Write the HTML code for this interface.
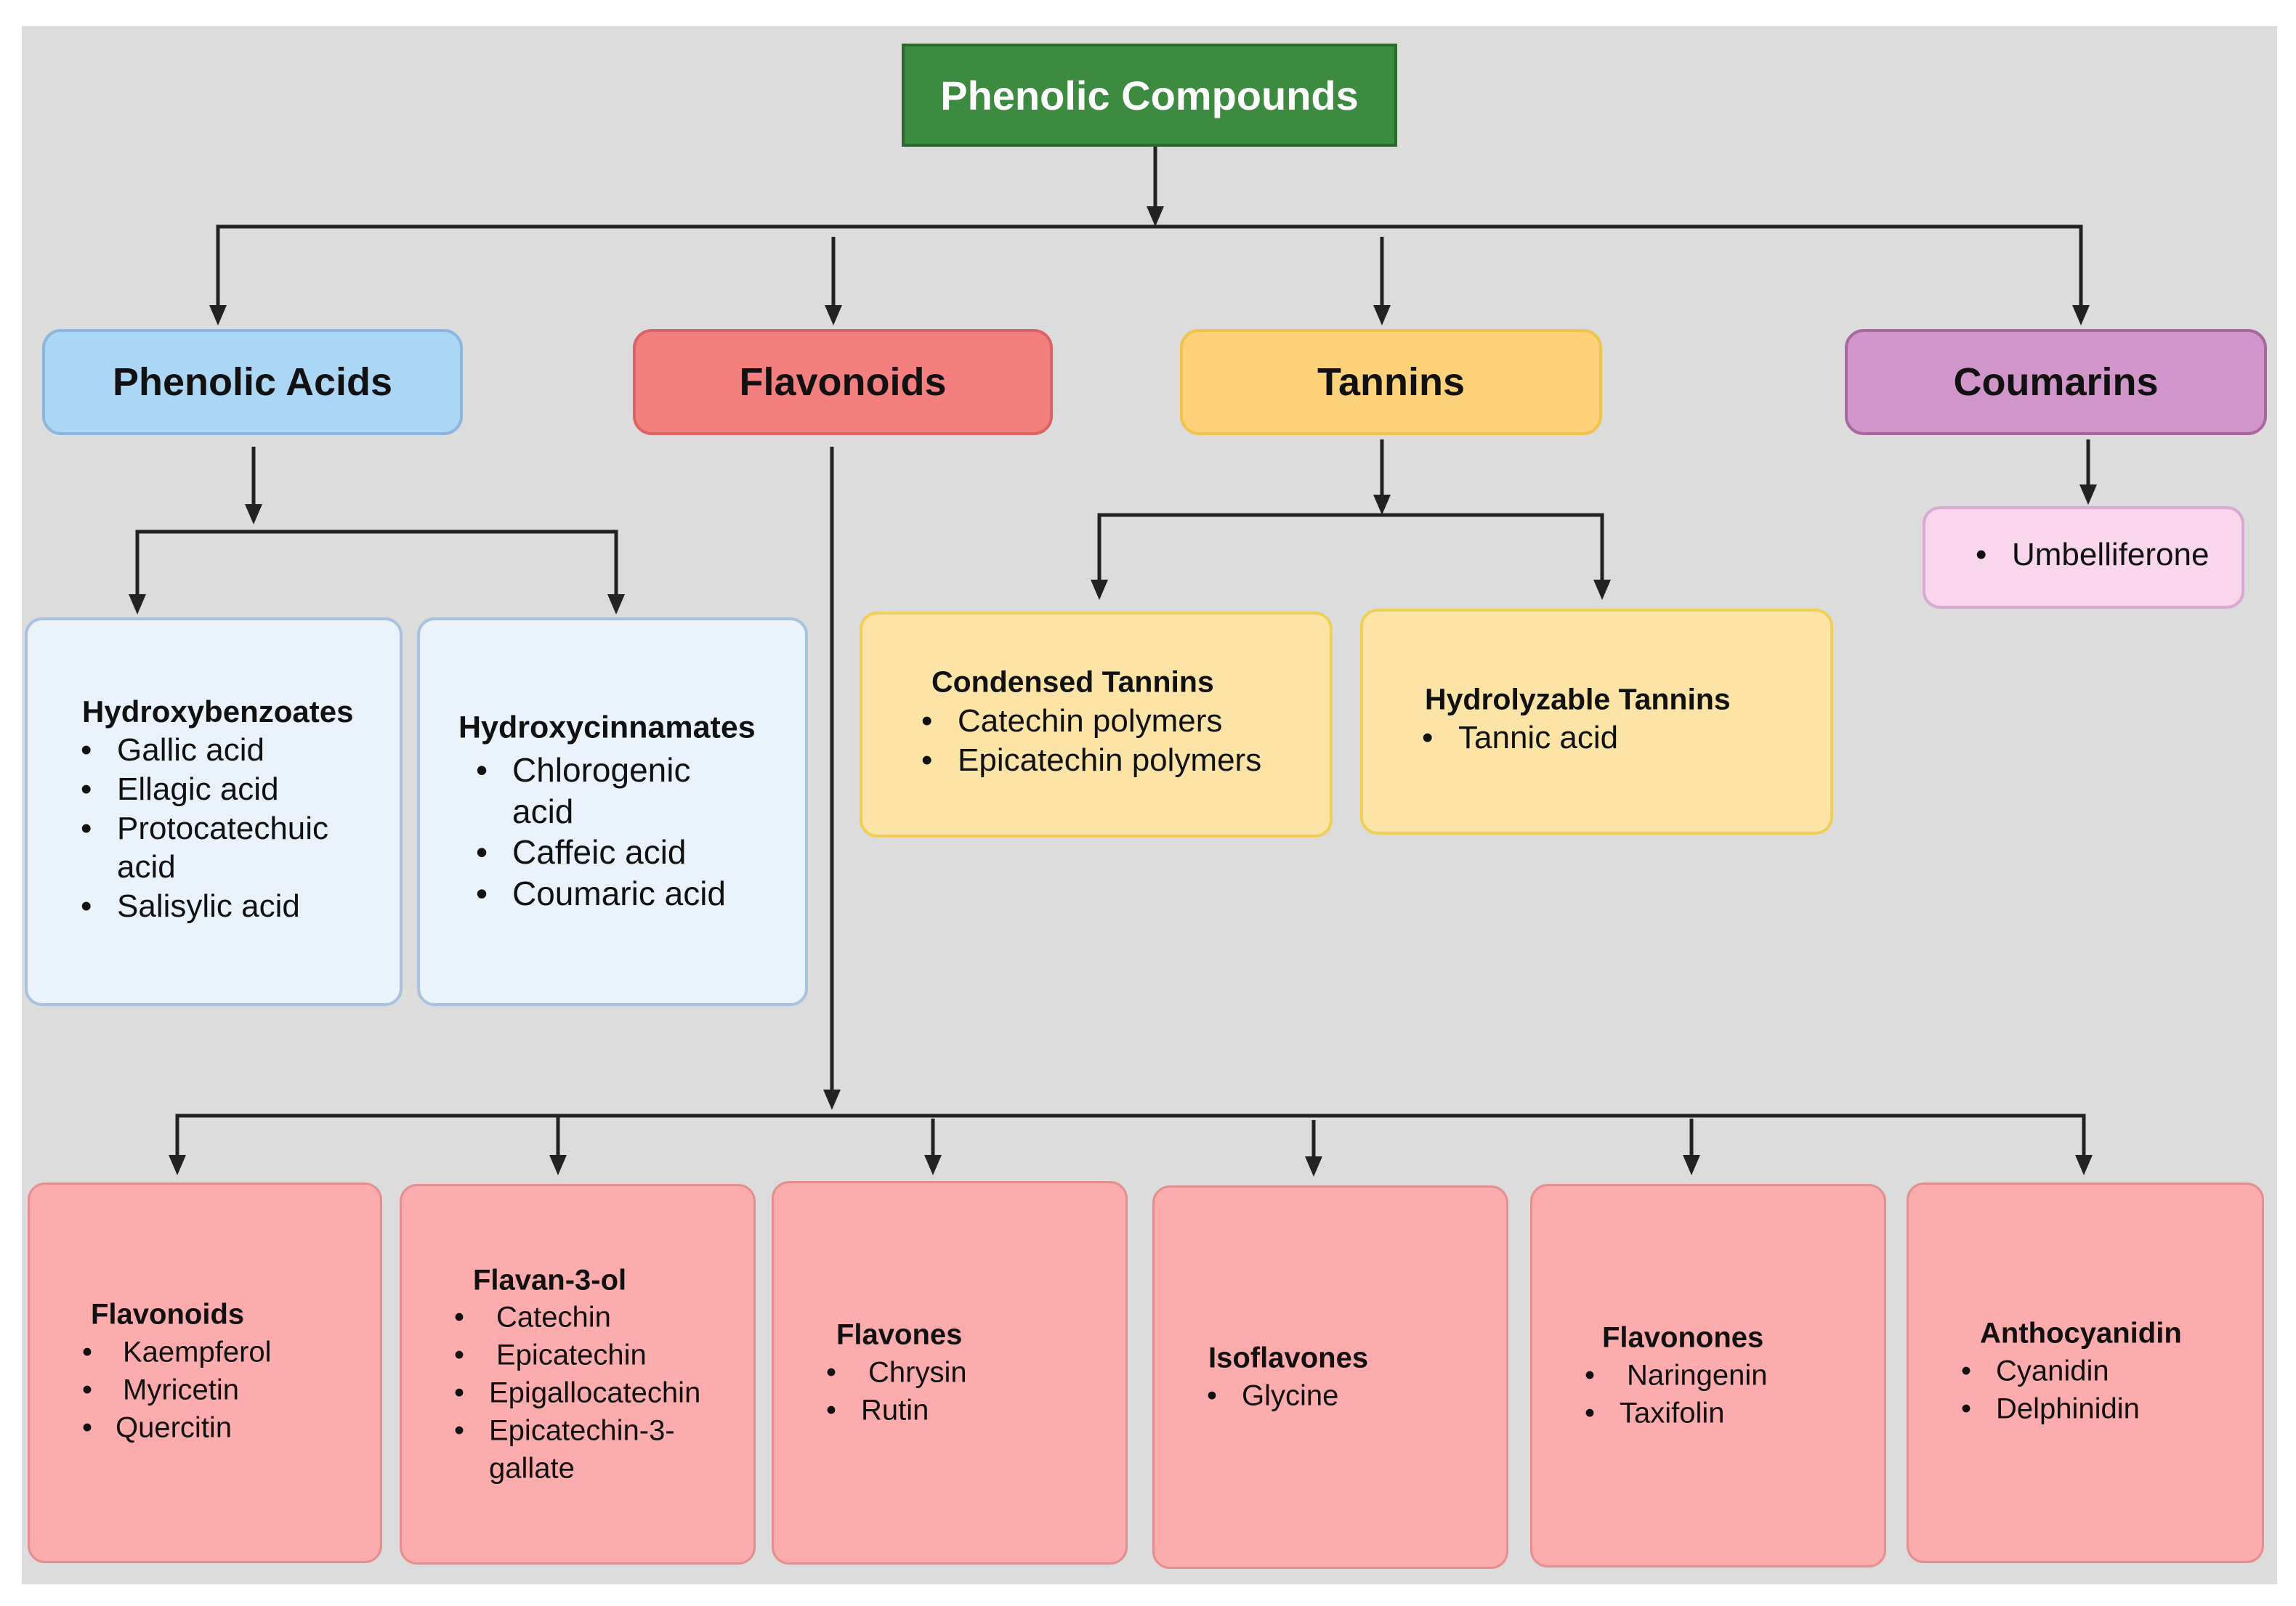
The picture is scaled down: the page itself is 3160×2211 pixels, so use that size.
<!DOCTYPE html>
<html><head><meta charset="utf-8"><style>
html,body{margin:0;padding:0;background:#fff;}
#c{position:relative;width:3160px;height:2211px;overflow:hidden;background:#fff;font-family:"Liberation Sans",Arial,sans-serif;}
#bg{position:absolute;left:30px;top:36px;width:3104px;height:2145px;background:#dcdcdc;}
.b{position:absolute;box-sizing:border-box;}
.t{position:absolute;white-space:nowrap;transform:translateY(-50%);color:#111;}
.h{font-weight:bold;}
.ctr{display:flex;align-items:center;justify-content:center;font-weight:bold;font-size:54px;color:#111;}
svg{position:absolute;left:0;top:0;}
</style></head><body><div id="c">
<div id="bg"></div>

<div class="b ctr" style="left:1241px;top:60px;width:682px;height:142px;background:#3d8b40;border:4px solid #2a6a2c;color:#fff;font-size:56px;">Phenolic Compounds</div>

<div class="b ctr" style="left:58px;top:453px;width:579px;height:146px;background:#acd7f4;border:4px solid #8cb6de;border-radius:26px;">Phenolic Acids</div>
<div class="b ctr" style="left:871px;top:453px;width:578px;height:146px;background:#f47f7f;border:4px solid #d86464;border-radius:26px;">Flavonoids</div>
<div class="b ctr" style="left:1624px;top:453px;width:581px;height:146px;background:#fdd27a;border:4px solid #f1c34c;border-radius:26px;">Tannins</div>
<div class="b ctr" style="left:2539px;top:453px;width:581px;height:146px;background:#d196c9;border:4px solid #a8689f;border-radius:26px;">Coumarins</div>

<div class="b" style="left:34px;top:850px;width:520px;height:535px;background:#eaf3fc;border:4px solid #a8c2e0;border-radius:24px;"></div>
<div class="b" style="left:574px;top:850px;width:538px;height:535px;background:#eaf3fc;border:4px solid #a8c2e0;border-radius:24px;"></div>
<div class="b" style="left:1183px;top:842px;width:651px;height:311px;background:#fbe4a6;border:4px solid #f0cf58;border-radius:24px;"></div>
<div class="b" style="left:1872px;top:838px;width:651px;height:311px;background:#fbe4a6;border:4px solid #f0cf58;border-radius:24px;"></div>
<div class="b" style="left:2646px;top:697px;width:443px;height:141px;background:#f8d6ec;border:4px solid #daa8d2;border-radius:24px;"></div>

<div class="b" style="left:38px;top:1628px;width:488px;height:524px;background:#fcacac;border:3px solid #e48e8e;border-radius:24px;"></div>
<div class="b" style="left:550px;top:1630px;width:490px;height:524px;background:#fcacac;border:3px solid #e48e8e;border-radius:24px;"></div>
<div class="b" style="left:1062px;top:1626px;width:490px;height:528px;background:#fcacac;border:3px solid #e48e8e;border-radius:24px;"></div>
<div class="b" style="left:1586px;top:1632px;width:490px;height:528px;background:#fcacac;border:3px solid #e48e8e;border-radius:24px;"></div>
<div class="b" style="left:2106px;top:1630px;width:490px;height:528px;background:#fcacac;border:3px solid #e48e8e;border-radius:24px;"></div>
<div class="b" style="left:2624px;top:1628px;width:492px;height:524px;background:#fcacac;border:3px solid #e48e8e;border-radius:24px;"></div>

<svg width="3160" height="2211" viewBox="0 0 3160 2211">
<g stroke="#222" stroke-width="5" fill="none">
<line x1="1590" y1="202" x2="1590" y2="290"/>
<polyline points="300,430 300,312 2864,312 2864,430"/>
<line x1="1147" y1="326" x2="1147" y2="430"/>
<line x1="1902" y1="326" x2="1902" y2="430"/>
<line x1="349" y1="615" x2="349" y2="700"/>
<polyline points="189,826 189,732 848,732 848,826"/>
<line x1="1145" y1="615" x2="1145" y2="1510"/>
<polyline points="244,1600 244,1536 2868,1536 2868,1600"/>
<line x1="768" y1="1536" x2="768" y2="1600"/>
<line x1="1284" y1="1540" x2="1284" y2="1600"/>
<line x1="1808" y1="1542" x2="1808" y2="1600"/>
<line x1="2328" y1="1540" x2="2328" y2="1600"/>
<line x1="1902" y1="605" x2="1902" y2="690"/>
<polyline points="1513,808 1513,709 2205,709 2205,808"/>
<line x1="2874" y1="605" x2="2874" y2="676"/>
</g>
<g fill="#222">
<polygon points="1578,284 1602,284 1590,312"/>
<polygon points="288,420 312,420 300,448"/>
<polygon points="1135,420 1159,420 1147,448"/>
<polygon points="1890,420 1914,420 1902,448"/>
<polygon points="2852,420 2876,420 2864,448"/>
<polygon points="337,694 361,694 349,722"/>
<polygon points="177,818 201,818 189,846"/>
<polygon points="836,818 860,818 848,846"/>
<polygon points="1133,1500 1157,1500 1145,1528"/>
<polygon points="232,1590 256,1590 244,1618"/>
<polygon points="756,1590 780,1590 768,1618"/>
<polygon points="1272,1590 1296,1590 1284,1618"/>
<polygon points="1796,1592 1820,1592 1808,1620"/>
<polygon points="2316,1590 2340,1590 2328,1618"/>
<polygon points="2856,1590 2880,1590 2868,1618"/>
<polygon points="1890,681 1914,681 1902,709"/>
<polygon points="1501,798 1525,798 1513,826"/>
<polygon points="2193,798 2217,798 2205,826"/>
<polygon points="2862,667 2886,667 2874,695"/>
</g>
</svg>

<!-- Hydroxybenzoates -->
<div style="font-size:44px;">
<div class="t h" style="left:113px;top:980px;font-size:42px;">Hydroxybenzoates</div>
<div class="t" style="left:111px;top:1033px;">•</div><div class="t" style="left:161px;top:1033px;">Gallic acid</div>
<div class="t" style="left:111px;top:1087px;">•</div><div class="t" style="left:161px;top:1087px;">Ellagic acid</div>
<div class="t" style="left:111px;top:1141px;">•</div><div class="t" style="left:161px;top:1141px;">Protocatechuic</div>
<div class="t" style="left:161px;top:1194px;">acid</div>
<div class="t" style="left:111px;top:1248px;">•</div><div class="t" style="left:161px;top:1248px;">Salisylic acid</div>
</div>
<!-- Hydroxycinnamates -->
<div style="font-size:46px;">
<div class="t h" style="left:631px;top:1002px;font-size:43px;">Hydroxycinnamates</div>
<div class="t" style="left:655px;top:1060px;">•</div><div class="t" style="left:705px;top:1060px;">Chlorogenic</div>
<div class="t" style="left:705px;top:1117px;">acid</div>
<div class="t" style="left:655px;top:1173px;">•</div><div class="t" style="left:705px;top:1173px;">Caffeic acid</div>
<div class="t" style="left:655px;top:1230px;">•</div><div class="t" style="left:705px;top:1230px;">Coumaric acid</div>
</div>
<!-- Tannins -->
<div style="font-size:44px;">
<div class="t h" style="left:1282px;top:939px;font-size:41px;">Condensed Tannins</div>
<div class="t" style="left:1268px;top:993px;">•</div><div class="t" style="left:1318px;top:993px;">Catechin polymers</div>
<div class="t" style="left:1268px;top:1047px;">•</div><div class="t" style="left:1318px;top:1047px;">Epicatechin polymers</div>
<div class="t h" style="left:1961px;top:963px;font-size:41px;">Hydrolyzable Tannins</div>
<div class="t" style="left:1957px;top:1016px;">•</div><div class="t" style="left:2007px;top:1016px;">Tannic acid</div>
<div class="t" style="left:2719px;top:764px;">•</div><div class="t" style="left:2769px;top:764px;">Umbelliferone</div>
</div>
<!-- Bottom -->
<div style="font-size:40px;">
<div class="t h" style="left:125px;top:1810px;">Flavonoids</div>
<div class="t" style="left:113px;top:1862px;">•</div><div class="t" style="left:169px;top:1862px;">Kaempferol</div>
<div class="t" style="left:113px;top:1914px;">•</div><div class="t" style="left:169px;top:1914px;">Myricetin</div>
<div class="t" style="left:113px;top:1966px;">•</div><div class="t" style="left:159px;top:1966px;">Quercitin</div>

<div class="t h" style="left:651px;top:1763px;">Flavan-3-ol</div>
<div class="t" style="left:625px;top:1814px;">•</div><div class="t" style="left:683px;top:1814px;">Catechin</div>
<div class="t" style="left:625px;top:1866px;">•</div><div class="t" style="left:683px;top:1866px;">Epicatechin</div>
<div class="t" style="left:625px;top:1918px;">•</div><div class="t" style="left:673px;top:1918px;">Epigallocatechin</div>
<div class="t" style="left:625px;top:1970px;">•</div><div class="t" style="left:673px;top:1970px;">Epicatechin-3-</div>
<div class="t" style="left:673px;top:2022px;">gallate</div>

<div class="t h" style="left:1151px;top:1838px;">Flavones</div>
<div class="t" style="left:1137px;top:1890px;">•</div><div class="t" style="left:1195px;top:1890px;">Chrysin</div>
<div class="t" style="left:1137px;top:1942px;">•</div><div class="t" style="left:1185px;top:1942px;">Rutin</div>

<div class="t h" style="left:1663px;top:1870px;">Isoflavones</div>
<div class="t" style="left:1661px;top:1922px;">•</div><div class="t" style="left:1709px;top:1922px;">Glycine</div>

<div class="t h" style="left:2205px;top:1842px;">Flavonones</div>
<div class="t" style="left:2181px;top:1894px;">•</div><div class="t" style="left:2239px;top:1894px;">Naringenin</div>
<div class="t" style="left:2181px;top:1946px;">•</div><div class="t" style="left:2229px;top:1946px;">Taxifolin</div>

<div class="t h" style="left:2725px;top:1836px;">Anthocyanidin</div>
<div class="t" style="left:2699px;top:1888px;">•</div><div class="t" style="left:2747px;top:1888px;">Cyanidin</div>
<div class="t" style="left:2699px;top:1940px;">•</div><div class="t" style="left:2747px;top:1940px;">Delphinidin</div>
</div>

</div></body></html>
